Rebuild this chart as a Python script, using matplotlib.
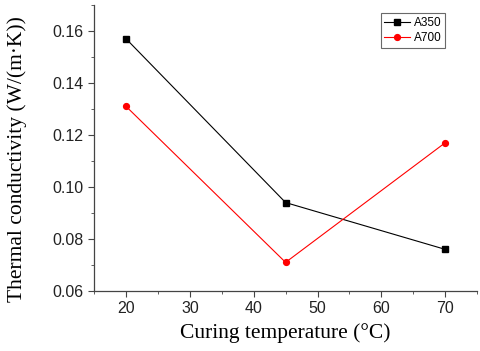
import matplotlib
matplotlib.use("Agg")
import matplotlib.pyplot as plt
from matplotlib.ticker import MultipleLocator, FormatStrFormatter

temps = [20, 45, 70]
a350 = [0.157, 0.094, 0.076]
a700 = [0.131, 0.071, 0.117]

fig = plt.figure(figsize=(4.8, 3.51), dpi=100)
ax = fig.add_axes([0.196, 0.171, 0.798, 0.815])
ax.plot(temps, a350, color="black", lw=0.8, marker="s", ms=4, label="A350")
ax.plot(temps, a700, color="red", lw=0.8, marker="o", ms=4.2, label="A700")
ax.set_xlim(15, 75)
ax.set_ylim(0.06, 0.17)
ax.xaxis.set_major_locator(MultipleLocator(10))
ax.xaxis.set_minor_locator(MultipleLocator(5))
ax.yaxis.set_major_locator(MultipleLocator(0.02))
ax.yaxis.set_minor_locator(MultipleLocator(0.01))
ax.yaxis.set_major_formatter(FormatStrFormatter("%.2f"))
for s in ["top", "right"]:
    ax.spines[s].set_visible(False)
for s in ["left", "bottom"]:
    ax.spines[s].set_color("#444444")
    ax.spines[s].set_linewidth(0.9)
ax.tick_params(which="both", direction="out", colors="#444444", labelcolor="#222222",
               labelsize=11.5)
ax.tick_params(which="major", length=4)
ax.tick_params(which="minor", length=2.5)
for lab in ax.get_xticklabels() + ax.get_yticklabels():
    lab.set_family("Liberation Sans")
ax.set_xlabel("Curing temperature (\u00b0C)", family="Liberation Serif", fontsize=15.5, labelpad=5)
ax.set_ylabel("Thermal conductivity (W/(m\u00b7K))", family="Liberation Serif", fontsize=15.5, labelpad=4)
ax.yaxis.set_label_coords(-0.175, 0.46)
leg = ax.legend(loc="upper right", bbox_to_anchor=(0.916, 0.97),
                prop={"family": "Liberation Sans", "size": 8.5},
                frameon=True, fancybox=False, edgecolor="#444444", handlelength=2.2,
                borderpad=0.3, labelspacing=0.25, handletextpad=0.3, borderaxespad=0)
leg.get_frame().set_linewidth(0.8)
fig.savefig("out.png", dpi=100)
